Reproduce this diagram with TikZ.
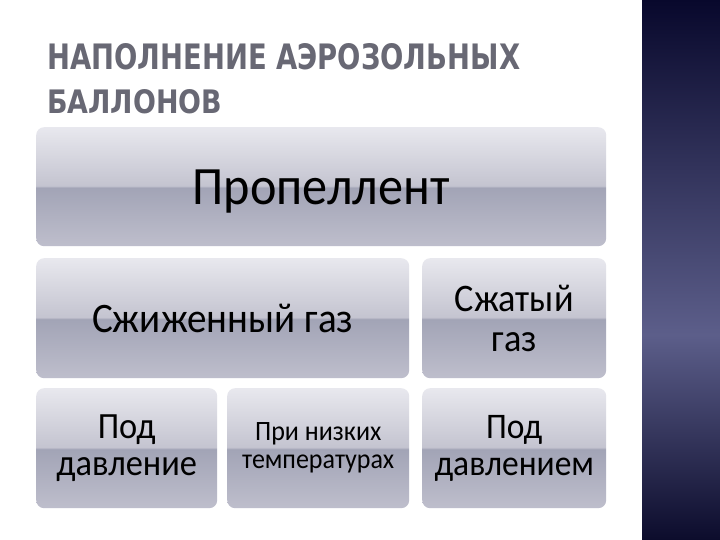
\documentclass[tikz,border=0pt]{standalone}
\usepackage{fontspec}
\setmainfont[FakeStretch=0.93]{Carlito}
\newfontfamily\titlefont{DejaVu Sans}
\usetikzlibrary{positioning}

\definecolor{bxtop}{RGB}{232,232,238}
\definecolor{bxhi}{RGB}{196,196,208}
\definecolor{bxband}{RGB}{162,164,182}
\definecolor{bxbot}{RGB}{190,190,204}
\definecolor{stripdark}{RGB}{12,12,44}
\definecolor{stripmid}{RGB}{92,94,138}
\definecolor{stripdark2}{RGB}{8,8,44}
\definecolor{titlegray}{RGB}{104,104,116}

\pgfdeclareverticalshading{glassbox}{100bp}{color(0bp)=(bxbot); color(25bp)=(bxbot); color(49.6bp)=(bxband); color(50.4bp)=(bxhi); color(75bp)=(bxtop); color(100bp)=(bxtop)}
\pgfdeclareverticalshading{stripshade}{100bp}{color(0bp)=(stripdark); color(25bp)=(stripdark); color(44bp)=(stripmid); color(75bp)=(stripdark2); color(100bp)=(stripdark2)}

\tikzset{
  cellbox/.style={rounded corners=8pt, shading=glassbox, anchor=north west, align=center, inner sep=2pt, text=black},
  titleline/.style={anchor=north west, inner sep=0pt, text=titlegray}
}

\begin{document}
\begin{tikzpicture}[x=1pt,y=-1pt]
  %%%%% background %%%%%
  \fill[white] (0,0) rectangle (720,540);
  \useasboundingbox (0,0) rectangle (720,540);
  \shade[shading=stripshade] (642,0) rectangle (720,540);

  %%%%% title %%%%%
  \node[titleline] (title1) at (47,43) {\resizebox{473pt}{26pt}{\titlefont\bfseries НАПОЛНЕНИЕ АЭРОЗОЛЬНЫХ}};
  \node[titleline] (title2) at (47,89) {\resizebox{175pt}{24pt}{\titlefont\bfseries БАЛЛОНОВ}};

  %%%%% boxes %%%%%
  \node[cellbox, minimum width=570pt, minimum height=119pt, text depth=0pt, font=\fontsize{54}{56}\selectfont] (prop) at (36,127) {Пропеллент};

  \node[cellbox, minimum width=373pt, minimum height=120pt, font=\fontsize{42}{44}\selectfont] (liq) at (36,258) {Сжиженный газ};
  \node[cellbox, minimum width=184pt, minimum height=120pt, font=\fontsize{39}{40}\selectfont] (comp) at (422,258) {Сжатый\\газ};

  \node[cellbox, minimum width=181pt, minimum height=120pt, font=\fontsize{37}{37}\selectfont] (liqp) at (36,388) {Под\\давление};
  \node[cellbox, minimum width=182pt, minimum height=120pt, font=\fontsize{28}{28}\selectfont] (liqt) at (227,388) {При низких\\температурах};
  \node[cellbox, minimum width=184pt, minimum height=120pt, font=\fontsize{36}{37}\selectfont] (compp) at (422,388) {Под\\давлением};
\end{tikzpicture}
\end{document}
